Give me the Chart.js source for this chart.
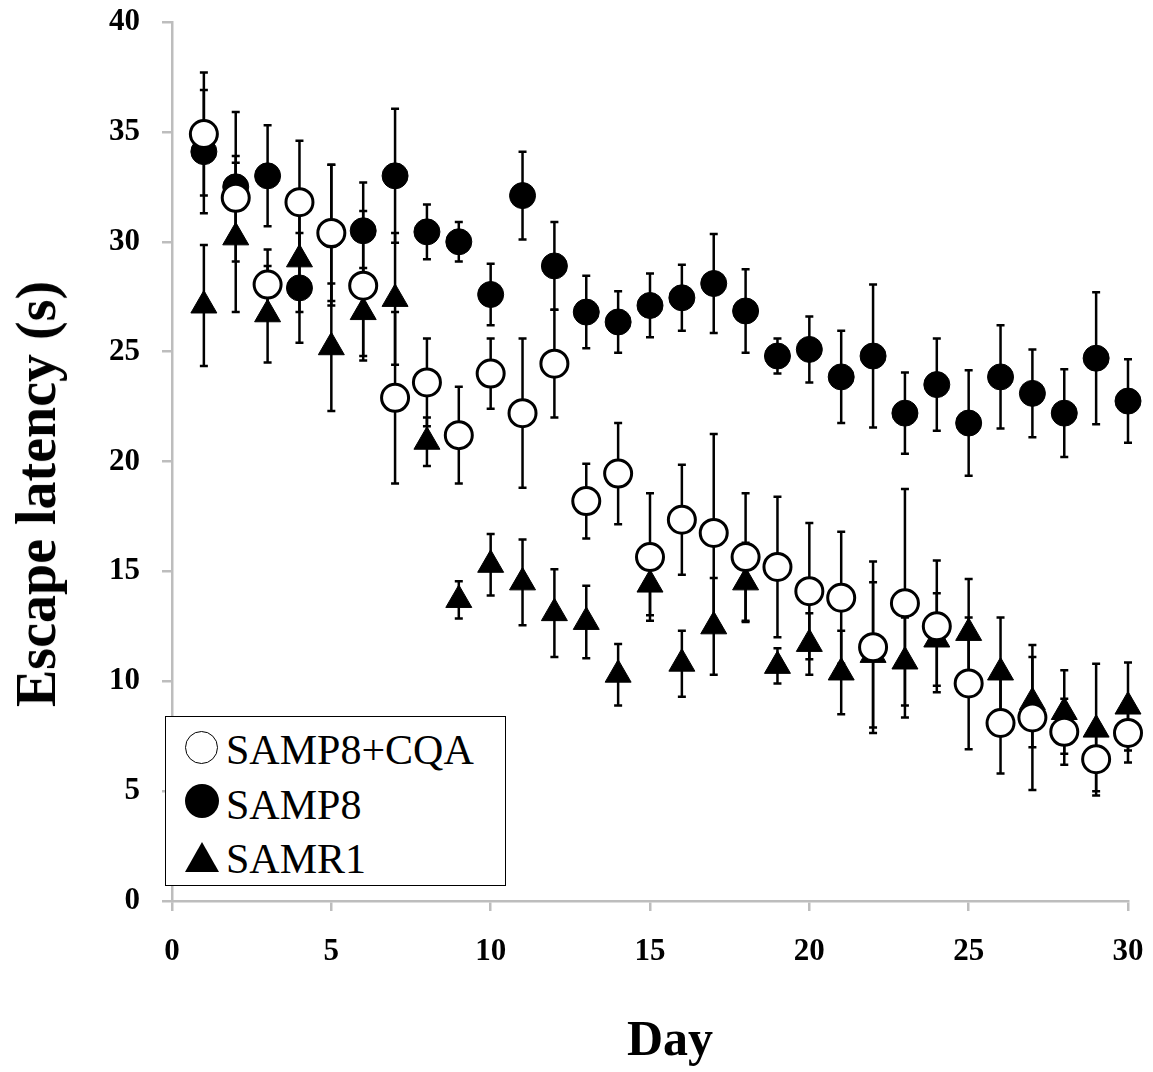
<!DOCTYPE html>
<html lang="en">
<head>
    <meta charset="UTF-8">
    <title>Escape latency by day</title>
    <script src="https://cdn.jsdelivr.net/npm/chart.js"></script>
    <style>
        body { margin: 0; background: #fff; }
        #wrap { position: relative; width: 1153px; height: 1072px; font-family: 'Liberation Serif', serif; }
        #chart { position: absolute; left: 0; top: 0; }
        .ytitle { position: absolute; left: 36px; top: 494px; transform: translate(-50%, -50%) rotate(-90deg);
                  white-space: nowrap; font-weight: bold; font-size: 56px; line-height: 1; }
        .xtitle { position: absolute; left: 670px; top: 1013px; transform: translateX(-50%);
                  font-weight: bold; font-size: 50px; line-height: 1; }
        #legend { position: absolute; left: 165px; top: 716px; width: 339px; height: 168px;
                  border: 1.5px solid #000; background: #fff; font-size: 42px; line-height: 42px; }
        .row { position: absolute; left: 60px; white-space: nowrap; }
        .mk { position: absolute; box-sizing: border-box; }
    </style>
</head>
<body>
<div id="wrap">
    <canvas id="chart" width="1153" height="1072"></canvas>
    <div class="ytitle">Escape latency (s)</div>
    <div class="xtitle">Day</div>
    <div id="legend">
        <div class="mk" style="left:19px; top:14px; width:33px; height:33px; border:1.5px solid #000; border-radius:50%;"></div>
        <div class="row" style="top:12px;">SAMP8+CQA</div>
        <div class="mk" style="left:19px; top:67px; width:34px; height:34px; background:#000; border-radius:50%;"></div>
        <div class="row" style="top:67px;">SAMP8</div>
        <div class="mk" style="left:19px; top:125px; width:0; height:0; border-left:17px solid transparent; border-right:17px solid transparent; border-bottom:30px solid #000;"></div>
        <div class="row" style="top:121px;">SAMR1</div>
    </div>
</div>

<script>
    // days 1..30
    const days = [1, 2, 3, 4, 5, 6, 7, 8, 9, 10, 11, 12, 13, 14, 15,
                  16, 17, 18, 19, 20, 21, 22, 23, 24, 25, 26, 27, 28, 29, 30];

    // SAMP8+CQA (open circles)
    const cqa    = [34.9, 32.0, 28.05, 31.8, 30.4, 28.0, 22.9, 23.6, 21.2, 24.0, 22.2, 24.45, 18.2, 19.45, 15.65,
                    17.35, 16.75, 15.65, 15.2, 14.1, 13.8, 11.55, 13.55, 12.5, 9.9, 8.1, 8.35, 7.7, 6.45, 7.65];
    const cqaErr = [2.8, 1.9, 1.6, 2.8, 3.1, 3.4, 3.9, 2.0, 2.2, 1.6, 3.4, 2.45, 1.7, 2.3, 2.9,
                    2.5, 4.5, 2.9, 3.2, 3.1, 3.0, 3.9, 5.2, 3.0, 3.0, 2.3, 3.3, 1.5, 1.45, 1.35];

    // SAMP8 (filled circles)
    const samp8    = [34.1, 32.5, 33.0, 27.9, 30.3, 30.5, 33.0, 30.45, 30.0, 27.6, 32.1, 28.9, 26.8, 26.35, 27.1,
                      27.45, 28.1, 26.85, 24.8, 25.1, 23.85, 24.8, 22.2, 23.5, 21.75, 23.85, 23.1, 22.2, 24.7, 22.75];
    const samp8Err = [2.8, 3.4, 2.3, 2.5, 3.2, 2.2, 3.05, 1.25, 0.9, 1.4, 2.0, 2.0, 1.65, 1.4, 1.45,
                      1.5, 2.25, 1.9, 0.8, 1.5, 2.1, 3.25, 1.85, 2.1, 2.4, 2.35, 2.0, 2.0, 3.0, 1.9];

    // SAMR1 (triangles)
    const samr1    = [27.1, 30.2, 26.7, 29.2, 25.2, 26.8, 27.4, 20.9, 13.7, 15.3, 14.5, 13.1, 12.7, 10.3, 14.4,
                      10.8, 12.5, 14.5, 10.7, 11.7, 10.4, 11.2, 10.9, 11.9, 12.2, 10.4, 9.05, 8.6, 7.8, 8.85];
    const samr1Err = [2.75, 3.4, 2.2, 2.4, 2.9, 2.0, 3.0, 1.1, 0.85, 1.4, 1.95, 2.0, 1.65, 1.4, 1.4,
                      1.5, 2.2, 1.8, 0.8, 1.4, 1.9, 3.3, 2.0, 2.1, 2.45, 2.5, 2.05, 1.9, 3.0, 2.0];

    const yTicks = [0, 5, 10, 15, 20, 25, 30, 35, 40];
    const xTicks = [0, 5, 10, 15, 20, 25, 30];

    function points(vals, errs) {
        return days.map((d, i) => ({ x: d, y: vals[i], err: errs[i] }));
    }

    // vertical error bars with small caps, drawn under the markers
    const errorBars = {
        id: 'errorBars',
        beforeDatasetsDraw(chart) {
            const { ctx, scales: { x, y } } = chart;
            ctx.save();
            ctx.strokeStyle = '#000';
            ctx.lineWidth = 2.5;
            chart.data.datasets.forEach(ds => {
                ds.data.forEach(p => {
                    const px = x.getPixelForValue(p.x);
                    const top = y.getPixelForValue(p.y + p.err);
                    const bot = y.getPixelForValue(p.y - p.err);
                    ctx.beginPath();
                    ctx.moveTo(px, top); ctx.lineTo(px, bot);
                    ctx.moveTo(px - 4, top); ctx.lineTo(px + 4, top);
                    ctx.moveTo(px - 4, bot); ctx.lineTo(px + 4, bot);
                    ctx.stroke();
                });
            });
            ctx.restore();
        }
    };

    // fixed box sizes so the plot area lands where the original's does
    function fixBox(size, key) {
        return s => {
            s[key] = size;
            s.paddingTop = 0; s.paddingBottom = 0; s.paddingLeft = 0; s.paddingRight = 0;
        };
    }

    const axisGray = '#bdbdbd';
    const tickFont = { family: 'Liberation Serif', size: 31, weight: 'bold' };

    new Chart(document.getElementById('chart'), {
        type: 'scatter',
        data: {
            datasets: [
                {   // first dataset is drawn on top
                    label: 'SAMP8+CQA',
                    data: points(cqa, cqaErr),
                    pointStyle: 'circle', pointRadius: 13.5,
                    backgroundColor: '#fff', borderColor: '#000', borderWidth: 3,
                    clip: false
                },
                {
                    label: 'SAMP8',
                    data: points(samp8, samp8Err),
                    pointStyle: 'circle', pointRadius: 13,
                    backgroundColor: '#000', borderColor: '#000', borderWidth: 1,
                    clip: false
                },
                {
                    label: 'SAMR1',
                    data: points(samr1, samr1Err),
                    pointStyle: 'triangle', pointRadius: 15,
                    backgroundColor: '#000', borderColor: '#000', borderWidth: 1,
                    clip: false
                }
            ]
        },
        options: {
            responsive: false,
            animation: false,
            events: [],
            layout: { autoPadding: false, padding: { top: 22, right: 25, left: 0, bottom: 0 } },
            plugins: { legend: { display: false }, tooltip: { enabled: false } },
            scales: {
                x: {
                    type: 'linear', min: 0, max: 30,
                    afterFit: fixBox(171, 'height'),
                    afterBuildTicks: s => { s.ticks = xTicks.map(v => ({ value: v })); },
                    grid: { drawOnChartArea: false, drawTicks: true, tickLength: 10, color: axisGray, lineWidth: 2.5 },
                    border: { display: true, color: axisGray, width: 2.5 },
                    ticks: { font: tickFont, color: '#000', padding: 22, maxRotation: 0 }
                },
                y: {
                    type: 'linear', min: 0, max: 40,
                    afterFit: fixBox(172, 'width'),
                    afterBuildTicks: s => { s.ticks = yTicks.map(v => ({ value: v })); },
                    grid: { drawOnChartArea: false, drawTicks: true, tickLength: 10, color: axisGray, lineWidth: 2.5 },
                    border: { display: true, color: axisGray, width: 2.5 },
                    ticks: { font: tickFont, color: '#000', padding: 22 }
                }
            }
        },
        plugins: [errorBars]
    });
</script>
</body>
</html>
